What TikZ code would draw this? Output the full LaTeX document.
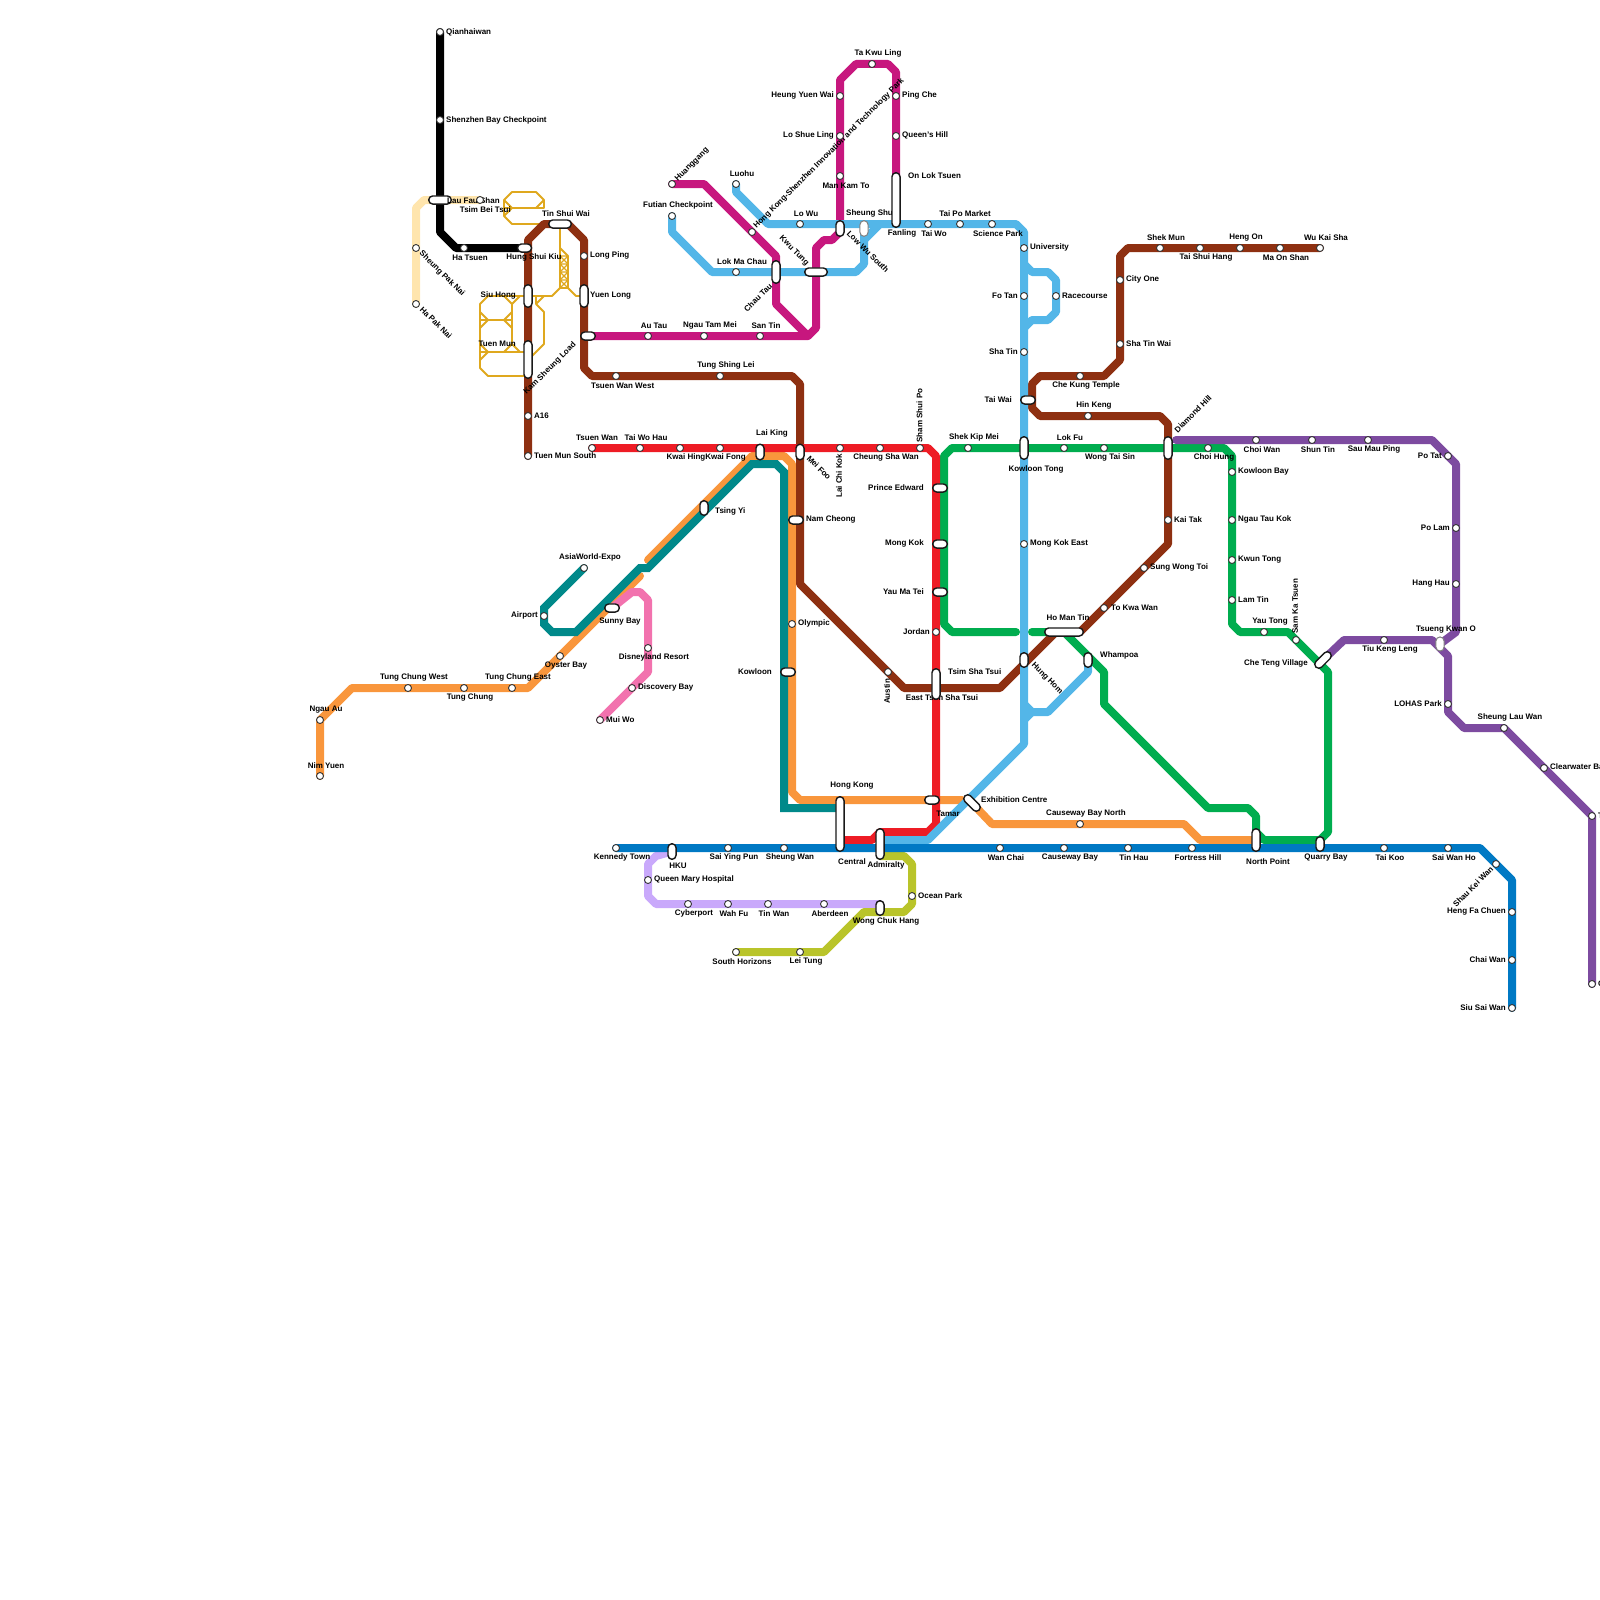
\documentclass[tikz,border=0pt]{standalone}
\usepackage{fontspec}
\setmainfont{Liberation Sans}
\pgfdeclarelayer{lines}
\pgfdeclarelayer{low}
\pgfdeclarelayer{labs}
\pgfsetlayers{lines,low,labs,main}
\definecolor{cBrown}{HTML}{8E3011}
\definecolor{cRed}{HTML}{EE1C25}
\definecolor{cGreen}{HTML}{00AD4F}
\definecolor{cSky}{HTML}{53B6E8}
\definecolor{cBlue}{HTML}{0079C4}
\definecolor{cOrange}{HTML}{F9963C}
\definecolor{cTeal}{HTML}{00898A}
\definecolor{cMag}{HTML}{C7177E}
\definecolor{cPurple}{HTML}{7D4BA0}
\definecolor{cPink}{HTML}{F272AE}
\definecolor{cLilac}{HTML}{C9A9FB}
\definecolor{cOlive}{HTML}{B9C42A}
\definecolor{cCream}{HTML}{FFE5AD}
\definecolor{cGold}{HTML}{DFA81E}
\tikzset{
  metro/.style={line width=8pt,line cap=round,line join=round},
  lrt/.style={line width=1.8pt,cGold,line join=round},
  stn/.style={circle,draw=black!80,fill=white,line width=0.9pt,minimum size=7pt,inner sep=0pt},
  pillbox/.style={rectangle,draw=black!90,fill=white,line width=1.4pt,rounded corners=4pt,inner sep=0pt},
  pillgrey/.style={pillbox,draw=black!50,line width=1pt},
  lbl/.style={font=\bfseries\fontsize{8}{9}\selectfont,inner sep=0pt,text=black}
}
\newcounter{labc}
\newcommand{\lab}[5][0]{\stepcounter{labc}\begin{pgfonlayer}{labs}\node[lbl,anchor=#2,rotate=#1] (lab\arabic{labc}) at (#3,#4+0.7) {#5};\end{pgfonlayer}}
\newcommand{\sta}[3]{\node[stn] (#1) at (#2,#3) {};}
% name x y w h
\newcommand{\pil}[6][pillbox]{\node[#1,minimum width=#5pt-1.4pt,minimum height=#6pt-1.4pt] (#2) at (#3,#4) {};}
\begin{document}
\begin{tikzpicture}[x=1pt,y=-1pt]
\useasboundingbox (0,0) rectangle (1600,1600);
% ---------- stations
\sta{qianhaiwan}{440}{32}\sta{shenzhenbay}{440}{120}\sta{hatsuen}{464}{248}
\sta{laufaushan}{480}{200}\sta{sheungpaknai}{416}{248}\sta{hapaknai}{416}{304}
\sta{tuenmunsouth}{528}{456}\sta{asixteen}{528}{416}\sta{longping}{584}{256}
\sta{tsuenwanwest}{616}{376}\sta{tungshinglei}{720}{376}\sta{chekung}{1080}{376}
\sta{hinkeng}{1088}{416}\sta{cityone}{1120}{280}\sta{shatinwai}{1120}{344}
\sta{shekmun}{1160}{248}\sta{taishuihang}{1200}{248}\sta{hengon}{1240}{248}\sta{maonshan}{1280}{248}\sta{wukaisha}{1320}{248}
\sta{kaitak}{1168}{520}\sta{sungwongtoi}{1144}{568}\sta{tokwawan}{1104}{608}\sta{austin}{888}{672}
\sta{tsuenwan}{592}{448}\sta{taiwohau}{640}{448}\sta{kwaihing}{680}{448}\sta{kwaifong}{720}{448}
\sta{laichikok}{840}{448}\sta{cheungshawan}{880}{448}\sta{shamshuipo}{920}{448}\sta{jordan}{936}{632}
\sta{shekkipmei}{968}{448}\sta{lokfu}{1064}{448}\sta{wongtaisin}{1104}{448}\sta{choihung}{1208}{448}
\sta{kowloonbay}{1232}{472}\sta{ngautaukok}{1232}{520}\sta{kwuntong}{1232}{560}\sta{lamtin}{1232}{600}
\sta{yautong}{1264}{632}\sta{samkatsuen}{1296}{640}
\sta{choiwan}{1256}{440}\sta{shuntin}{1312}{440}\sta{saumauping}{1368}{440}\sta{potat}{1448}{456}
\sta{polam}{1456}{528}\sta{hanghau}{1456}{584}\sta{tiukengleng}{1384}{640}\sta{lohas}{1448}{704}
\sta{sheunglauwan}{1504}{728}\sta{clearwater}{1544}{768}\sta{tsta}{1592}{816}\sta{csta}{1592}{984}
\sta{kennedy}{616}{848}\sta{saiyingpun}{728}{848}\sta{sheungwan}{784}{848}\sta{wanchai}{1000}{848}
\sta{causewaybay}{1064}{848}\sta{tinhau}{1128}{848}\sta{fortress}{1192}{848}\sta{taikoo}{1384}{848}\sta{saiwanho}{1448}{848}
\sta{shaukeiwan}{1496}{864}\sta{hengfa}{1512}{912}\sta{chaiwan}{1512}{960}\sta{siusaiwan}{1512}{1008}
\sta{nimyuen}{320}{776}\sta{ngauau}{320}{720}\sta{tcwest}{408}{688}\sta{tungchung}{464}{688}\sta{tceast}{512}{688}
\sta{oysterbay}{560}{656}\sta{olympic}{792}{624}\sta{cbnorth}{1080}{824}
\sta{asiaworld}{584}{568}\sta{airport}{544}{616}
\sta{muiwo}{600}{720}\sta{discovery}{632}{688}\sta{disney}{648}{648}
\sta{queenmary}{648}{880}\sta{cyberport}{688}{904}\sta{wahfu}{728}{904}\sta{tinwan}{768}{904}\sta{aberdeen}{824}{904}
\sta{oceanpark}{912}{896}\sta{leitung}{800}{952}\sta{southhorizons}{736}{952}
\sta{luohu}{736}{184}\sta{lowu}{800}{224}\sta{taiwo}{928}{224}\sta{taipomarket}{960}{224}\sta{sciencepark}{992}{224}
\sta{university}{1024}{248}\sta{fotan}{1024}{296}\sta{shatin}{1024}{352}\sta{mongkokeast}{1024}{544}\sta{racecourse}{1056}{296}
\sta{futian}{672}{216}\sta{lokmachau}{736}{272}
\sta{huanggang}{672}{184}\sta{hkszpark}{752}{232}\sta{autau}{648}{336}\sta{ngautammei}{704}{336}\sta{santin}{760}{336}
\sta{mankamto}{840}{176}\sta{loshueling}{840}{136}\sta{heungyuenwai}{840}{96}\sta{takwuling}{872}{64}\sta{pingche}{896}{96}\sta{queenshill}{896}{136}
% ---------- interchanges
\begin{pgfonlayer}{low}
\pil{laufau}{440}{200}{24}{9.5}
\end{pgfonlayer}
\pil{hungshuikiu}{524.5}{248}{15.5}{9.5}
\pil{tinshuiwai}{560}{224}{24}{9.5}
\pil{yuenlong}{584}{296}{9.5}{24}
\pil{kamsheung}{588}{336}{16}{9.5}
\pil{siuhong}{528}{296}{9.5}{24}
\pil{tuenmun}{528}{359.5}{9.5}{39}
\pil{laiking}{760}{452}{9.5}{17}
\pil{meifoo}{800}{452}{9.5}{17}
\pil{tsingyi}{704}{508}{9.5}{16}
\pil{sunnybay}{612}{608}{16}{9.5}
\pil{namcheong}{796}{520}{16}{9.5}
\pil{kowloon}{788}{672}{16}{9.5}
\pil{central}{840}{824}{9.5}{56}
\pil{admiralty}{880}{844}{9.5}{32}
\pil{hku}{672}{851.5}{9.5}{17}
\pil{wongchukhang}{880}{908}{9.5}{16}
\pil{tamar}{932}{800}{16}{9.5}
\node[pillbox,rotate=-45,minimum width=20pt,minimum height=8.1pt] (exhibition) at (972,803) {};
\pil{princeedward}{940}{488}{16}{9.5}
\pil{mongkok}{940}{544}{16}{9.5}
\pil{yaumatei}{940}{592}{16}{9.5}
\pil{tsimshatsui}{936}{684}{9.5}{32}
\pil{hunghom}{1024}{660}{9.5}{16}
\pil{hominin}{1064}{632}{40}{9.5}
\pil{whampoa}{1088}{660}{9.5}{16}
\pil{kowloontong}{1024}{448}{9.5}{24}
\pil{diamondhill}{1168}{448}{9.5}{24}
\pil{taiwai}{1028}{400}{16}{9.5}
\pil{northpoint}{1256}{840}{9.5}{24}
\pil{quarrybay}{1320}{844}{9.5}{16}
\node[pillbox,rotate=45,minimum width=20pt,minimum height=8.1pt] (cheteng) at (1323,660) {};
\pil[pillgrey]{tseungkwano}{1440}{644}{9.5}{15.5}
\pil[pillgrey]{sheungshui}{864}{228.5}{9.5}{17}
\pil{sheungshuimag}{840}{228.5}{9.5}{17}
\pil{chautau}{776}{272}{9.5}{24}
\pil{kwutung}{816}{272}{24}{9.5}
\pil{fanling}{896}{200}{9.5}{56}
% ---------- lines
\begin{pgfonlayer}{lines}
% light rail
\draw[lrt] (tinshuiwai.center) ++(-12,0) -- (512,224) -- (504,216) -- (504,200) -- (512,192) -- (536,192) -- (544,200) -- (544,208) -- (504,208);
\draw[lrt] (504,200) -- (512,208) -- (504,216) (536,208) -- (544,200);
\draw[lrt] (560,224) -- (560,288) -- (552,296) -- (528,296);
\draw[lrt] (560,248) -- (568,256) -- (568,288) -- (576,296) -- (yuenlong.center);
\draw[lrt] (560,288) -- (568,288);
\foreach \yy in {256,264,272,280}{\draw[lrt,line width=1.3pt] (560,\yy) -- (568,\yy+8) (568,\yy) -- (560,\yy+8) (560,\yy) -- (568,\yy);}
\draw[lrt] (siuhong.center) -- (488,296) -- (480,304) -- (480,368) -- (488,376) -- (528,376);
\draw[lrt] (512,304) -- (512,344) (504,296) -- (512,304) -- (520,296);
\draw[lrt] (480,320) -- (512,320) (480,312) -- (488,320) -- (480,328) (512,312) -- (504,320) -- (512,328);
\draw[lrt] (480,352) -- (528,352) (480,344) -- (488,352) -- (480,360) (504,352) -- (512,344) -- (520,352);
\draw[lrt] (544,296) -- (536,304) -- (536,296) (536,304) -- (544,312) -- (544,344) -- (528,360);
% cream, black
\draw[metro,cCream] (hapaknai.center) -- (sheungpaknai.center) -- (416,208) -- (424,200) -- (laufaushan.center);
\draw[metro,black] (qianhaiwan.center) -- (440,232) -- (456,248) -- (hungshuikiu.center);
% orange
\draw[metro,cOrange] (nimyuen.center) -- (ngauau.center) -- (352,688) -- (528,688) -- (640,576);
\draw[metro,cOrange] (648,560) -- (752,456) -- (784,456) -- (792,464) -- (792,792) -- (800,800) -- (962,800);
\draw[metro,cOrange] (exhibition.center) -- (992,824) -- (1184,824) -- (1200,840) -- (northpoint.center);
% teal
\draw[metro,cTeal,line join=miter] (asiaworld.center) -- (544,608) -- (544,624) -- (552,632) -- (576,632) -- (640,568) -- (648,568) -- (752,464) -- (776,464) -- (784,472) -- (784,808) -- (central.center |- 0,808);
% pink
\draw[metro,cPink] (muiwo.center) -- (648,672) -- (648,600) -- (640,592) -- (632,592) -- (sunnybay.center);
% lilac, olive
\draw[metro,cLilac] (hku.center) -- (656,856) -- (648,864) -- (648,896) -- (656,904) -- (wongchukhang.center |- 0,904);
\draw[metro,cOlive] (admiralty.center |- 0,856) -- (904,856) -- (912,864) -- (912,904) -- (904,912) -- (864,912) -- (824,952) -- (southhorizons.center);
% magenta
\draw[metro,cMag] (huanggang.center) -- (704,184) -- (776,256) -- (776,304) -- (808,336);
\draw[metro,cMag] (kamsheung.center) -- (808,336) -- (816,328) -- (816,248) -- (824,240) -- (832,240) -- (840,232) -- (840,80) -- (856,64) -- (888,64) -- (896,72) -- (fanling.center);
% brown
\draw[metro,cBrown] (tuenmunsouth.center) -- (528,240) -- (544,224) -- (568,224) -- (584,240) -- (584,368) -- (592,376) -- (792,376) -- (800,384) -- (800,584) -- (904,688) -- (1000,688) -- (1056,632) -- (1080,632) -- (1168,544) -- (1168,424) -- (1160,416) -- (1040,416) -- (1032,408) -- (1032,384) -- (1040,376) -- (1104,376) -- (1120,360) -- (1120,256) -- (1128,248) -- (wukaisha.center);
% green
\draw[metro,cGreen] (1032,632) -- (1064,632) -- (1104,672) -- (1104,704) -- (1208,808) -- (1248,808) -- (1256,816) -- (1256,832) -- (1264,840) -- (1320,840) -- (1328,832) -- (1328,672) -- (1288,632) -- (1240,632) -- (1232,624) -- (1232,456) -- (1224,448) -- (952,448) -- (944,456) -- (944,624) -- (952,632) -- (1016,632);
% red
\draw[metro,cRed] (tsuenwan.center) -- (928,448) -- (936,456) -- (936,824) -- (928,832) -- (880,832) -- (872,840) -- (central.center |- 0,840);
% purple
\draw[metro,cPurple] (1176,440) -- (1432,440) -- (1456,464) -- (1456,632) -- (tseungkwano.center);
\draw[metro,cPurple] (cheteng.center) -- (1344,640) -- (1432,640) -- (1448,656) -- (1448,712) -- (1464,728) -- (1504,728) -- (1592,816) -- (csta.center);
% light blue
\draw[metro,cSky] (luohu.center) -- (736,192) -- (768,224) -- (1016,224) -- (1024,232) -- (1024,744) -- (928,840) -- (admiralty.center |- 0,840);
\draw[metro,cSky] (1024,264) -- (1032,272) -- (1048,272) -- (1056,280) -- (1056,312) -- (1048,320) -- (1032,320) -- (1024,328);
\draw[metro,cSky] (1024,704) -- (1032,712) -- (1048,712) -- (whampoa.center |- 0,672) -- (whampoa.center);
\draw[metro,cSky] (1032,712) -- (1024,720);
\draw[metro,cSky] (futian.center) -- (672,232) -- (712,272) -- (856,272) -- (864,264) -- (sheungshui.center);
\draw[metro,cSky] (880,224) -- (864,240);
% island line
\draw[metro,cBlue] (kennedy.center) -- (1480,848) -- (1512,880) -- (siusaiwan.center);
\end{pgfonlayer}
% ---------- labels
\lab{west}{446}{32}{Qianhaiwan}
\lab{west}{446}{119.5}{Shenzhen Bay Checkpoint}
\lab{west}{447}{199.5}{Lau Fau Shan}
\lab{east}{511}{209}{Tsim Bei Tsui}
\lab{center}{470}{257}{Ha Tsuen}
\lab{center}{534}{257}{Hung Shui Kiu}
\lab{center}{566}{213}{Tin Shui Wai}
\lab{west}{590}{255}{Long Ping}
\lab{west}{590}{295}{Yuen Long}
\lab{east}{516}{295}{Siu Hong}
\lab{east}{516}{343}{Tuen Mun}
\lab[45]{center}{550}{368}{Kam Sheung Load}
\lab{west}{534}{415}{A16}
\lab{west}{534}{455}{Tuen Mun South}
\lab{west}{591}{385}{Tsuen Wan West}
\lab{center}{597}{437}{Tsuen Wan}
\lab{center}{646}{437}{Tai Wo Hau}
\lab{center}{686}{457}{Kwai Hing}
\lab{center}{725.5}{457}{Kwai Fong}
\lab{center}{772}{433}{Lai King}
\lab[-45]{center}{819}{467}{Mei Foo}
\lab[90]{center}{839}{475}{Lai Chi Kok}
\lab{center}{886}{457}{Cheung Sha Wan}
\lab[90]{west}{919.5}{442}{Sham Shui Po}
\lab{center}{974}{437}{Shek Kip Mei}
\lab{east}{924}{487}{Prince Edward}
\lab{east}{924}{543}{Mong Kok}
\lab{east}{924}{591}{Yau Ma Tei}
\lab{east}{930}{631}{Jordan}
\lab{west}{806}{519}{Nam Cheong}
\lab{west}{798}{623}{Olympic}
\lab{east}{772}{671}{Kowloon}
\lab{west}{715}{511}{Tsing Yi}
\lab{west}{948}{671}{Tsim Sha Tsui}
\lab{center}{942}{697}{East Tsim Sha Tsui}
\lab[90]{east}{887}{678}{Austin}
\lab{center}{852}{785}{Hong Kong}
\lab{center}{852}{861}{Central}
\lab{center}{886}{865}{Admiralty}
\lab{center}{622}{857}{Kennedy Town}
\lab{center}{678}{865}{HKU}
\lab{center}{734}{857}{Sai Ying Pun}
\lab{center}{790}{857}{Sheung Wan}
\lab{west}{654}{879}{Queen Mary Hospital}
\lab{center}{694}{913}{Cyberport}
\lab{center}{734}{913}{Wah Fu}
\lab{center}{774}{913}{Tin Wan}
\lab{center}{830}{913}{Aberdeen}
\lab{center}{886}{921}{Wong Chuk Hang}
\lab{center}{742}{961}{South Horizons}
\lab{center}{806}{961}{Lei Tung}
\lab{west}{918}{895}{Ocean Park}
\lab{center}{948}{813}{Tamar}
\lab{west}{981}{799}{Exhibition Centre}
\lab{center}{1086}{813}{Causeway Bay North}
\lab{center}{1006}{857}{Wan Chai}
\lab{center}{1070}{857}{Causeway Bay}
\lab{center}{1134}{857}{Tin Hau}
\lab{center}{1198}{857}{Fortress Hill}
\lab{center}{1268}{861}{North Point}
\lab{center}{1326}{857}{Quarry Bay}
\lab{center}{1390}{857}{Tai Koo}
\lab{center}{1454}{857}{Sai Wan Ho}
\lab[45]{center}{1473}{886}{Shau Kei Wan}
\lab{east}{1506}{911}{Heng Fa Chuen}
\lab{east}{1506}{959}{Chai Wan}
\lab{east}{1506}{1007}{Siu Sai Wan}
\lab{west}{1100}{655}{Whampoa}
\lab[-45]{center}{1047}{678}{Hung Hom}
\lab{center}{1068}{617}{Ho Man Tin}
\lab{west}{1111}{607}{To Kwa Wan}
\lab{west}{1150}{567}{Sung Wong Toi}
\lab{west}{1174}{519}{Kai Tak}
\lab{west}{1030}{543}{Mong Kok East}
\lab{center}{1036}{469}{Kowloon Tong}
\lab{center}{1070}{437}{Lok Fu}
\lab{center}{1110}{457}{Wong Tai Sin}
\lab{center}{1214}{457}{Choi Hung}
\lab[45]{center}{1193}{413}{Diamond Hill}
\lab{center}{1094}{405}{Hin Keng}
\lab{center}{1086}{385}{Che Kung Temple}
\lab{east}{1012}{399}{Tai Wai}
\lab{east}{1018}{351}{Sha Tin}
\lab{east}{1018}{295}{Fo Tan}
\lab{west}{1030}{247}{University}
\lab{west}{1062}{295}{Racecourse}
\lab{west}{1126}{279}{City One}
\lab{west}{1126}{343}{Sha Tin Wai}
\lab{center}{1166}{237}{Shek Mun}
\lab{center}{1206}{257}{Tai Shui Hang}
\lab{center}{1246}{237}{Heng On}
\lab{center}{1286}{257}{Ma On Shan}
\lab{center}{1326}{237}{Wu Kai Sha}
\lab{center}{1262}{449}{Choi Wan}
\lab{center}{1318}{449}{Shun Tin}
\lab{center}{1374}{449}{Sau Mau Ping}
\lab{east}{1442}{455}{Po Tat}
\lab{east}{1450}{527}{Po Lam}
\lab{east}{1450}{583}{Hang Hau}
\lab{center}{1446}{629}{Tsueng Kwan O}
\lab{center}{1390}{649}{Tiu Keng Leng}
\lab{east}{1308}{663}{Che Teng Village}
\lab[90]{west}{1295}{633}{Sam Ka Tsuen}
\lab{center}{1270}{621}{Yau Tong}
\lab{west}{1238}{471}{Kowloon Bay}
\lab{west}{1238}{519}{Ngau Tau Kok}
\lab{west}{1238}{559}{Kwun Tong}
\lab{west}{1238}{599}{Lam Tin}
\lab{east}{1442}{703}{LOHAS Park}
\lab{center}{1510}{717}{Sheung Lau Wan}
\lab{west}{1550}{767}{Clearwater Bay}
\lab{west}{1598}{815}{T}
\lab{west}{1598}{983}{C}
\lab{center}{326}{709}{Ngau Au}
\lab{center}{326}{765}{Nim Yuen}
\lab{center}{414}{677}{Tung Chung West}
\lab{center}{470}{697}{Tung Chung}
\lab{center}{518}{677}{Tung Chung East}
\lab{center}{566}{665}{Oyster Bay}
\lab{center}{620}{621}{Sunny Bay}
\lab{east}{538}{615}{Airport}
\lab{center}{590}{557}{AsiaWorld-Expo}
\lab{center}{654}{657}{Disneyland Resort}
\lab{west}{638}{687}{Discovery Bay}
\lab{west}{606}{719}{Mui Wo}
\lab[-45]{center}{442}{273}{Sheung Pak Nai}
\lab[-45]{center}{436}{322}{Ha Pak Nai}
\lab[45]{center}{692}{164}{Huanggang}
\lab{center}{742}{173}{Luohu}
\lab{center}{678}{205}{Futian Checkpoint}
\lab[45]{center}{829}{153}{Hong Kong-Shenzhen Innovation and Technology Park}
\lab{center}{742}{261}{Lok Ma Chau}
\lab{center}{806}{213}{Lo Wu}
\lab{west}{846}{213}{Sheung Shui}
\lab[-45]{center}{868}{251}{Low Wu South}
\lab[-45]{center}{794}{250}{Kwu Tung}
\lab[45]{center}{758}{297}{Chau Tau}
\lab{center}{846}{185}{Man Kam To}
\lab{east}{834}{95}{Heung Yuen Wai}
\lab{east}{834}{135}{Lo Shue Ling}
\lab{west}{902}{95}{Ping Che}
\lab{west}{902}{135}{Queen's Hill}
\lab{center}{878}{53}{Ta Kwu Ling}
\lab{west}{908}{175}{On Lok Tsuen}
\lab{center}{902}{233}{Fanling}
\lab{center}{934}{233}{Tai Wo}
\lab{center}{965}{213}{Tai Po Market}
\lab{center}{998}{233}{Science Park}
\lab{center}{654}{325}{Au Tau}
\lab{center}{710}{325}{Ngau Tam Mei}
\lab{center}{766}{325}{San Tin}
\lab{center}{726}{365}{Tung Shing Lei}
\end{tikzpicture}
\end{document}
